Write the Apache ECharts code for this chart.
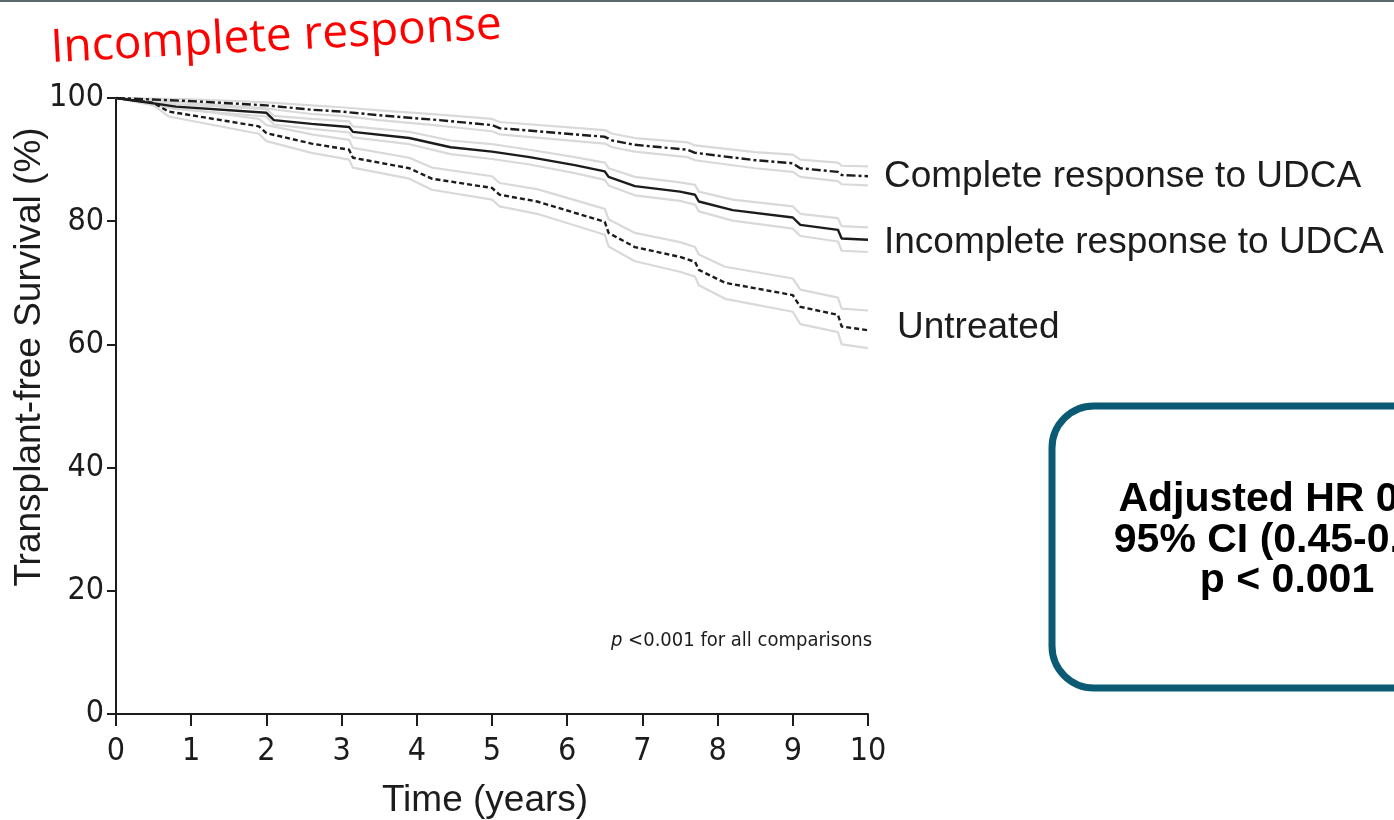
<!DOCTYPE html>
<html>
<head>
<meta charset="utf-8">
<title>Transplant-free survival by UDCA response</title>
<script src="https://cdn.jsdelivr.net/npm/echarts@6/dist/echarts.min.js"></script>
<style>
  html, body { margin: 0; padding: 0; background: #ffffff; }
  #chart { width: 1394px; height: 820px; }
</style>
</head>
<body>
<div id="chart"></div>
<script>
// Kaplan-Meier estimates (time in years, survival in %), with 95% CI bounds
const xTicks = [0, 1, 2, 3, 4, 5, 6, 7, 8, 9, 10];
const yTicks = [0, 20, 40, 60, 80, 100];

const completeT  = [0, 1, 2, 2.6, 3, 3.5, 4.3, 5.0, 5.1, 6.5, 6.6, 6.9, 7.6, 7.7, 8.5, 9.0, 9.1, 9.6, 9.65, 10];
const completeS  = [100, 99.5, 98.8, 98.1, 97.8, 97.2, 96.4, 95.6, 95.1, 93.7, 93.1, 92.4, 91.6, 91.1, 89.9, 89.4, 88.6, 88.0, 87.5, 87.3];
const completeHi = [100, 99.8, 99.3, 98.8, 98.5, 98.0, 97.3, 96.6, 96.1, 94.8, 94.2, 93.5, 92.8, 92.3, 91.2, 90.8, 90.0, 89.5, 89.0, 88.9];
const completeLo = [100, 99.2, 98.3, 97.4, 97.1, 96.4, 95.5, 94.6, 94.1, 92.6, 92.0, 91.3, 90.4, 89.9, 88.6, 88.0, 87.2, 86.5, 86.0, 85.8];

const incompleteT  = [0, 0.8, 2.0, 2.1, 2.6, 3.1, 3.15, 3.9, 4.45, 5.0, 5.5, 6.1, 6.5, 6.55, 6.9, 7.5, 7.7, 7.75, 8.2, 9.0, 9.1, 9.6, 9.65, 10];
const incompleteS  = [100, 98.6, 97.6, 96.4, 95.8, 95.3, 94.5, 93.5, 92.0, 91.3, 90.4, 89.1, 88.1, 87.2, 85.7, 84.8, 84.3, 83.2, 81.8, 80.6, 79.4, 78.6, 77.2, 77.0];
const incompleteHi = [100, 99.0, 98.2, 97.1, 96.6, 96.2, 95.4, 94.5, 93.1, 92.5, 91.6, 90.4, 89.5, 88.6, 87.2, 86.3, 85.9, 84.8, 83.5, 82.4, 81.2, 80.5, 79.2, 79.0];
const incompleteLo = [100, 98.2, 97.0, 95.7, 95.0, 94.4, 93.6, 92.5, 90.9, 90.1, 89.2, 87.8, 86.7, 85.8, 84.2, 83.3, 82.7, 81.6, 80.1, 78.8, 77.6, 76.7, 75.2, 75.0];

const untreatedT  = [0, 0.5, 0.7, 1.9, 2.0, 2.6, 3.1, 3.15, 3.9, 4.2, 5.0, 5.1, 5.6, 6.5, 6.55, 6.9, 7.5, 7.7, 7.75, 8.1, 9.0, 9.1, 9.6, 9.65, 10];
const untreatedS  = [100, 99.2, 97.8, 95.4, 94.3, 92.6, 91.6, 90.3, 88.6, 86.9, 85.4, 84.3, 83.2, 79.9, 78.1, 75.8, 74.2, 73.4, 72.1, 70.0, 68.0, 66.1, 64.8, 62.9, 62.3];
const untreatedHi = [100, 99.6, 98.6, 96.6, 95.6, 94.1, 93.2, 91.9, 90.3, 88.7, 87.3, 86.2, 85.2, 82.0, 80.3, 78.1, 76.6, 75.8, 74.6, 72.6, 70.7, 68.9, 67.6, 65.8, 65.5];
const untreatedLo = [100, 98.8, 97.0, 94.2, 93.0, 91.1, 90.0, 88.7, 86.9, 85.1, 83.5, 82.4, 81.2, 77.8, 75.9, 73.5, 71.8, 71.0, 69.6, 67.4, 65.3, 63.3, 62.0, 60.0, 59.4];

const groupNames = ['Complete response to UDCA', 'Incomplete response to UDCA', 'Untreated'];

const zip = (t, v) => t.map((x, i) => [x, v[i]]);

const INK = '#1c1c1c';
const CI_GREY = '#d9d9d9';

function ciLine(name, t, v) {
  return {
    name: name, type: 'line', data: zip(t, v), symbol: 'none', silent: true,
    lineStyle: { color: CI_GREY, width: 2.2 }, z: 2
  };
}
function kmLine(name, t, v, dash) {
  return {
    name: name, type: 'line', data: zip(t, v), symbol: 'none',
    lineStyle: { color: INK, width: 2.4, type: dash }, z: 5
  };
}

const chart = echarts.init(document.getElementById('chart'), null, { renderer: 'canvas' });

const sans = "'Liberation Sans', Arial, sans-serif";
const narrow = "'Liberation Sans Narrow', 'Arial Narrow', 'DejaVu Sans Condensed', sans-serif";

chart.setOption({
  backgroundColor: '#ffffff',
  animation: false,
  grid: { left: 116, right: 526, top: 98, bottom: 106 },
  xAxis: {
    type: 'value', min: 0, max: 10, interval: 1,
    axisLine: { show: true, lineStyle: { color: INK, width: 2 } },
    axisTick: { show: true, length: 12, lineStyle: { color: INK, width: 2 } },
    axisLabel: { color: INK, fontSize: 32, fontFamily: narrow, margin: 22,
                 formatter: v => xTicks.includes(v) ? String(v) : '' },
    splitLine: { show: false }
  },
  yAxis: {
    type: 'value', min: 0, max: 100, interval: 20,
    axisLine: { show: true, lineStyle: { color: INK, width: 2 } },
    axisTick: { show: true, length: 9, lineStyle: { color: INK, width: 2 } },
    axisLabel: { color: INK, fontSize: 32, fontFamily: narrow, margin: 12,
                 formatter: v => yTicks.includes(v) ? String(v) : '' },
    splitLine: { show: false }
  },
  series: [
    ciLine('ci-c-hi', completeT, completeHi),
    ciLine('ci-c-lo', completeT, completeLo),
    ciLine('ci-i-hi', incompleteT, incompleteHi),
    ciLine('ci-i-lo', incompleteT, incompleteLo),
    ciLine('ci-u-hi', untreatedT, untreatedHi),
    ciLine('ci-u-lo', untreatedT, untreatedLo),
    kmLine(groupNames[0], completeT, completeS, [9, 3, 3, 3]),
    kmLine(groupNames[1], incompleteT, incompleteS, 'solid'),
    kmLine(groupNames[2], untreatedT, untreatedS, [5, 3])
  ],
  graphic: [
    // thin bar along the top edge
    { type: 'rect', left: 0, top: 0, shape: { width: 1394, height: 2 }, style: { fill: '#5c686d' } },
    // panel heading
    {
      type: 'text', x: 52, y: 72, rotation: 3 * Math.PI / 180,
      style: { text: 'Incomplete response', fill: '#ff0000', fontSize: 46,
               fontFamily: "'Open Sans', 'Noto Sans', sans-serif", textVerticalAlign: 'bottom' }
    },
    // y-axis title
    {
      type: 'text', x: 30, y: 357, rotation: Math.PI / 2,
      style: { text: 'Transplant-free Survival (%)', fill: INK, fontSize: 37,
               fontFamily: sans, textAlign: 'center', textVerticalAlign: 'middle' }
    },
    // x-axis title
    {
      type: 'text', x: 485, y: 801,
      style: { text: 'Time (years)', fill: INK, fontSize: 37, fontFamily: sans,
               textAlign: 'center', textVerticalAlign: 'middle' }
    },
    // group labels
    { type: 'text', x: 884, y: 177, style: { text: groupNames[0], fill: INK, fontSize: 37, fontFamily: sans, textVerticalAlign: 'middle' } },
    { type: 'text', x: 884, y: 243, style: { text: groupNames[1], fill: INK, fontSize: 37, fontFamily: sans, textVerticalAlign: 'middle' } },
    { type: 'text', x: 897, y: 328, style: { text: groupNames[2], fill: INK, fontSize: 37, fontFamily: sans, textVerticalAlign: 'middle' } },
    // p-value note
    {
      type: 'text', x: 872, y: 641,
      style: {
        text: '{i|p} <0.001 for all comparisons',
        fill: INK, fontSize: 20, fontFamily: narrow, textAlign: 'right', textVerticalAlign: 'middle',
        rich: { i: { fontStyle: 'italic', fontSize: 20, fontFamily: narrow, fill: INK } }
      }
    },
    // hazard ratio box
    {
      type: 'rect', shape: { x: 1052, y: 406, width: 476, height: 282, r: 42 },
      style: { fill: '#ffffff', stroke: '#0b5a74', lineWidth: 7 }
    },
    {
      type: 'text', x: 1287, y: 500,
      style: { text: 'Adjusted HR 0.56', fill: '#000000', fontSize: 41, fontWeight: 'bold',
               fontFamily: sans, textAlign: 'center', textVerticalAlign: 'middle' }
    },
    {
      type: 'text', x: 1287, y: 541,
      style: { text: '95% CI (0.45-0.70)', fill: '#000000', fontSize: 41, fontWeight: 'bold',
               fontFamily: sans, textAlign: 'center', textVerticalAlign: 'middle' }
    },
    {
      type: 'text', x: 1287, y: 581,
      style: { text: 'p < 0.001', fill: '#000000', fontSize: 41, fontWeight: 'bold',
               fontFamily: sans, textAlign: 'center', textVerticalAlign: 'middle' }
    }
  ]
});
</script>
</body>
</html>
